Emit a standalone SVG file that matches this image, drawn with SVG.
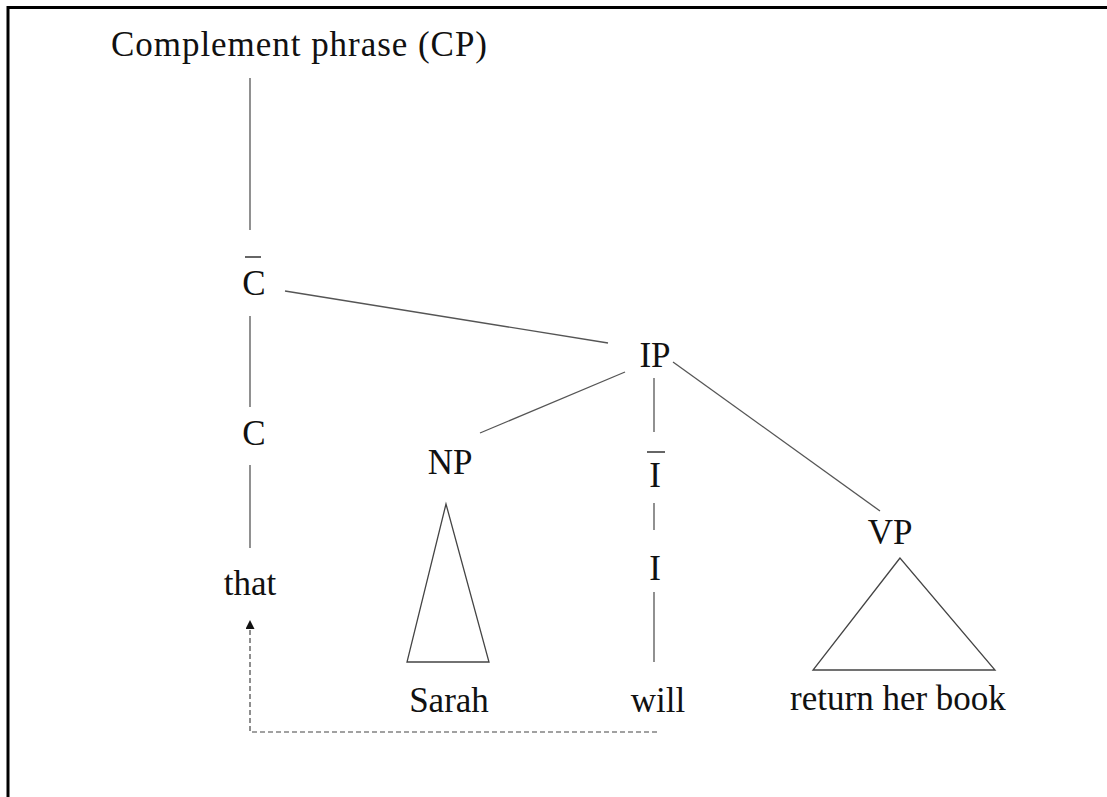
<svg xmlns="http://www.w3.org/2000/svg" width="1107" height="797" viewBox="0 0 1107 797">
  <style>
    .lbl { font-family: "Liberation Serif", "Times New Roman", serif; font-size: 35px; fill: #111; text-anchor: middle; }
    .edge { stroke: #555; stroke-width: 1.3; fill: none; }
    .tri { stroke: #444; stroke-width: 1.3; fill: none; stroke-linejoin: miter; }
    .bar { stroke: #333; stroke-width: 1.5; }
    .frame { stroke: #000; stroke-width: 3; fill: none; }
    .move { stroke: #444; stroke-width: 1.2; fill: none; stroke-dasharray: 5,3; }
  </style>
  <defs>
    <marker id="arrowhead" viewBox="0 0 10 10" refX="10" refY="5" markerWidth="9" markerHeight="9" markerUnits="userSpaceOnUse" orient="auto">
      <path d="M0,0 L10,5 L0,10 Z" fill="#111"/>
    </marker>
  </defs>

  <rect width="1107" height="797" fill="#fff"/>

  <!-- frame: top and left edges -->
  <path class="frame" d="M8,797 L8,7.5 L1107,7.5"/>

  <!-- connectors -->
  <g id="connectors">
    <line class="edge" x1="250" y1="78" x2="250" y2="230"/>
    <line class="edge" x1="250" y1="316" x2="250" y2="407"/>
    <line class="edge" x1="250" y1="465" x2="250" y2="548"/>
    <line class="edge" x1="285" y1="291" x2="608" y2="343"/>
    <line class="edge" x1="625" y1="372" x2="480" y2="433"/>
    <line class="edge" x1="654" y1="378" x2="654" y2="432"/>
    <line class="edge" x1="654" y1="503" x2="654" y2="530"/>
    <line class="edge" x1="654" y1="592" x2="654" y2="662"/>
    <line class="edge" x1="673" y1="362" x2="880" y2="511"/>
    <!-- movement of the head I to C -->
    <path class="move" d="M657,732 L250,732 L250,620" marker-end="url(#arrowhead)"/>
  </g>

  <g id="node-cp">
    <text class="lbl" x="111" y="56" style="text-anchor:start" textLength="376">Complement phrase (CP)</text>
  </g>

  <g id="node-cbar">
    <line class="bar" x1="245" y1="257" x2="261" y2="257"/>
    <text class="lbl" x="254" y="295">C</text>
  </g>

  <g id="node-c">
    <text class="lbl" x="254" y="445">C</text>
  </g>

  <g id="node-that">
    <text class="lbl" x="250" y="595">that</text>
  </g>

  <g id="node-ip">
    <text class="lbl" x="655" y="367">IP</text>
  </g>

  <g id="node-np">
    <text class="lbl" x="450" y="474">NP</text>
    <polygon class="tri" points="446,504 407,662 489,662"/>
  </g>

  <g id="node-sarah">
    <text class="lbl" x="449" y="712">Sarah</text>
  </g>

  <g id="node-ibar">
    <line class="bar" x1="647" y1="452" x2="665" y2="452"/>
    <text class="lbl" x="655" y="487">I</text>
  </g>

  <g id="node-i">
    <text class="lbl" x="655" y="580">I</text>
  </g>

  <g id="node-will">
    <text class="lbl" x="658" y="712">will</text>
  </g>

  <g id="node-vp">
    <text class="lbl" x="890" y="544">VP</text>
    <polygon class="tri" points="900,558 813,670 995,670"/>
  </g>

  <g id="node-return">
    <text class="lbl" x="898" y="710">return her book</text>
  </g>
</svg>
